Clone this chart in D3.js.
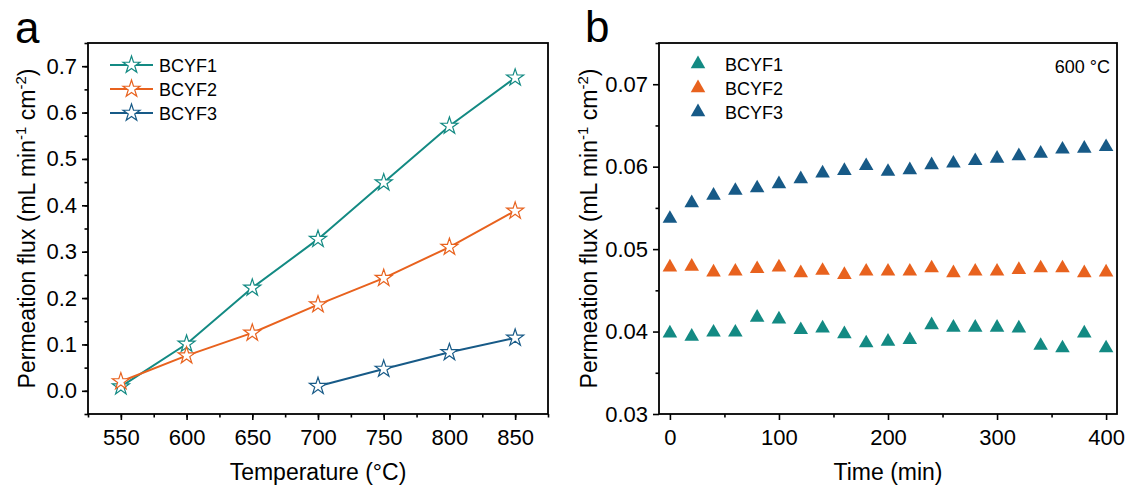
<!DOCTYPE html>
<html>
<head>
<meta charset="utf-8">
<script src="https://cdn.jsdelivr.net/npm/d3@7"></script>
<style>
  body { margin: 0; background: #fff; }
  svg { display: block; font-family: Arial, "Liberation Sans", sans-serif; }
</style>
</head>
<body>
<script>
const width = 1133;
const height = 486;

// panel a: flux vs temperature
const temps = [550, 600, 650, 700, 750, 800, 850];
const fluxF1 = [0.009, 0.101, 0.222, 0.327, 0.449, 0.571, 0.675];
const fluxF2 = [0.020, 0.076, 0.125, 0.186, 0.243, 0.310, 0.388];
const fluxF3 = [null, null, null, 0.010, 0.047, 0.083, 0.114];

// panel b: flux vs time at 600 °C
const times = d3.range(0, 401, 20);
const timeF1 = [0.0398, 0.0394, 0.0399, 0.0399, 0.0417, 0.0415, 0.0402, 0.0404, 0.0397, 0.0386, 0.0388,
  0.0390, 0.0408, 0.0405, 0.0405, 0.0405, 0.0404, 0.0383, 0.0380, 0.0398, 0.0380];
const timeF2 = [0.0478, 0.0479, 0.0472, 0.0473, 0.0476, 0.0478, 0.0471, 0.0474, 0.0469, 0.0473, 0.0473,
  0.0473, 0.0477, 0.0471, 0.0473, 0.0473, 0.0475, 0.0477, 0.0477, 0.0471, 0.0472];
const timeF3 = [0.0537, 0.0556, 0.0565, 0.0571, 0.0574, 0.0579, 0.0585, 0.0592, 0.0595, 0.0601, 0.0594,
  0.0596, 0.0602, 0.0604, 0.0607, 0.0610, 0.0613, 0.0616, 0.0621, 0.0622, 0.0624];

const names = ["BCYF1", "BCYF2", "BCYF3"];
const colors = ["#138a83", "#e8621e", "#175a87"];

const xTicksA = [550, 600, 650, 700, 750, 800, 850];
const yTicksA = [0, 0.1, 0.2, 0.3, 0.4, 0.5, 0.6, 0.7];
const xTicksB = [0, 100, 200, 300, 400];
const yTicksB = [0.03, 0.04, 0.05, 0.06, 0.07];

const svg = d3.select("body").append("svg")
  .attr("width", width)
  .attr("height", height);

const xA = d3.scaleLinear().domain([525, 875]).range([88, 548]);
const yA = d3.scaleLinear().domain([-0.05, 0.75]).range([414, 43]);
const xB = d3.scaleLinear().domain([-10, 410]).range([659, 1117]);
const yB = d3.scaleLinear().domain([0.03, 0.075]).range([414, 43]);

function frame(x, y, xMajor, xMinor, yMajor, yMinor, yFmt) {
  const [x0, x1] = x.range();
  const [y0, y1] = y.range();
  const g = svg.append("g");

  g.append("g")
    .attr("transform", `translate(0,${y0})`)
    .call(d3.axisBottom(x).tickValues(xMinor).tickSize(3.5).tickFormat(""));
  g.append("g")
    .attr("transform", `translate(0,${y0})`)
    .call(d3.axisBottom(x).tickValues(xMajor).tickSize(6).tickPadding(9).tickFormat(d3.format("d")));
  g.append("g")
    .attr("transform", `translate(${x0},0)`)
    .call(d3.axisLeft(y).tickValues(yMinor).tickSize(3.5).tickFormat(""));
  g.append("g")
    .attr("transform", `translate(${x0},0)`)
    .call(d3.axisLeft(y).tickValues(yMajor).tickSize(6).tickPadding(5).tickFormat(d3.format(yFmt)));

  g.selectAll(".domain").remove();
  g.selectAll(".tick line").attr("stroke", "#000").attr("stroke-width", 1.6);
  g.selectAll(".tick text")
    .attr("font-size", 22)
    .attr("font-family", "Arial, 'Liberation Sans', sans-serif")
    .attr("fill", "#000");

  g.append("rect")
    .attr("x", x0).attr("y", y1)
    .attr("width", x1 - x0).attr("height", y0 - y1)
    .attr("fill", "none")
    .attr("stroke", "#000")
    .attr("stroke-width", 1.8);
  return g;
}

function yTitle(xPos, cy) {
  const t = svg.append("text")
    .attr("transform", `translate(${xPos},${cy}) rotate(-90)`)
    .attr("text-anchor", "middle")
    .attr("font-size", 23);
  t.append("tspan").text("Permeation flux (mL min");
  t.append("tspan").attr("font-size", 15).attr("dy", -9).text("-1");
  t.append("tspan").attr("dy", 9).text(" cm");
  t.append("tspan").attr("font-size", 15).attr("dy", -9).text("-2");
  t.append("tspan").attr("dy", 9).text(")");
}

// ---- panel a ----
frame(xA, yA, xTicksA, d3.range(525, 876, 25), yTicksA, d3.range(-0.05, 0.751, 0.05), ".1f");

const star = d3.symbol(d3.symbolStar).size(90);
const seriesA = [fluxF1, fluxF2, fluxF3];

seriesA.forEach((vals, i) => {
  const pts = temps.map((t, j) => ({ t, v: vals[j] })).filter(d => d.v != null);
  svg.append("path")
    .datum(pts)
    .attr("fill", "none")
    .attr("stroke", colors[i])
    .attr("stroke-width", 2)
    .attr("d", d3.line().x(d => xA(d.t)).y(d => yA(d.v)));
  svg.append("g")
    .selectAll("path")
    .data(pts)
    .join("path")
    .attr("d", star)
    .attr("transform", d => `translate(${xA(d.t)},${yA(d.v)})`)
    .attr("fill", "#fff")
    .attr("stroke", colors[i])
    .attr("stroke-width", 1.2);
});

const legA = svg.append("g");
names.forEach((n, i) => {
  const y = 65 + i * 24;
  legA.append("line")
    .attr("x1", 110).attr("x2", 153).attr("y1", y).attr("y2", y)
    .attr("stroke", colors[i]).attr("stroke-width", 2);
  legA.append("path")
    .attr("d", star)
    .attr("transform", `translate(131.5,${y})`)
    .attr("fill", "#fff").attr("stroke", colors[i]).attr("stroke-width", 1.2);
  legA.append("text")
    .attr("x", 159).attr("y", y + 6.5)
    .attr("font-size", 18)
    .text(n);
});

svg.append("text")
  .attr("x", 318).attr("y", 480)
  .attr("text-anchor", "middle")
  .attr("font-size", 23)
  .text("Temperature (°C)");
yTitle(35, 228.5);
svg.append("text").attr("x", 15).attr("y", 43).attr("font-size", 44).text("a");

// ---- panel b ----
frame(xB, yB, xTicksB, d3.range(50, 400, 100), yTicksB, d3.range(0.035, 0.0751, 0.01), ".2f");

const tri = d3.symbol(d3.symbolTriangle).size(92);
const seriesB = [timeF1, timeF2, timeF3];

seriesB.forEach((vals, i) => {
  svg.append("g")
    .selectAll("path")
    .data(times.map((t, j) => ({ t, v: vals[j] })))
    .join("path")
    .attr("d", tri)
    .attr("transform", d => `translate(${xB(d.t)},${yB(d.v)})`)
    .attr("fill", colors[i]);
});

const legB = svg.append("g");
names.forEach((n, i) => {
  const y = 64 + i * 24;
  legB.append("path")
    .attr("d", tri)
    .attr("transform", `translate(698,${y})`)
    .attr("fill", colors[i]);
  legB.append("text")
    .attr("x", 725).attr("y", y + 6.5)
    .attr("font-size", 18)
    .text(n);
});

svg.append("text")
  .attr("x", 1110).attr("y", 73)
  .attr("text-anchor", "end")
  .attr("font-size", 18)
  .text("600 °C");

svg.append("text")
  .attr("x", 888).attr("y", 480)
  .attr("text-anchor", "middle")
  .attr("font-size", 23)
  .text("Time (min)");
yTitle(597, 228.5);
svg.append("text").attr("x", 585).attr("y", 42).attr("font-size", 44).text("b");
</script>
</body>
</html>
